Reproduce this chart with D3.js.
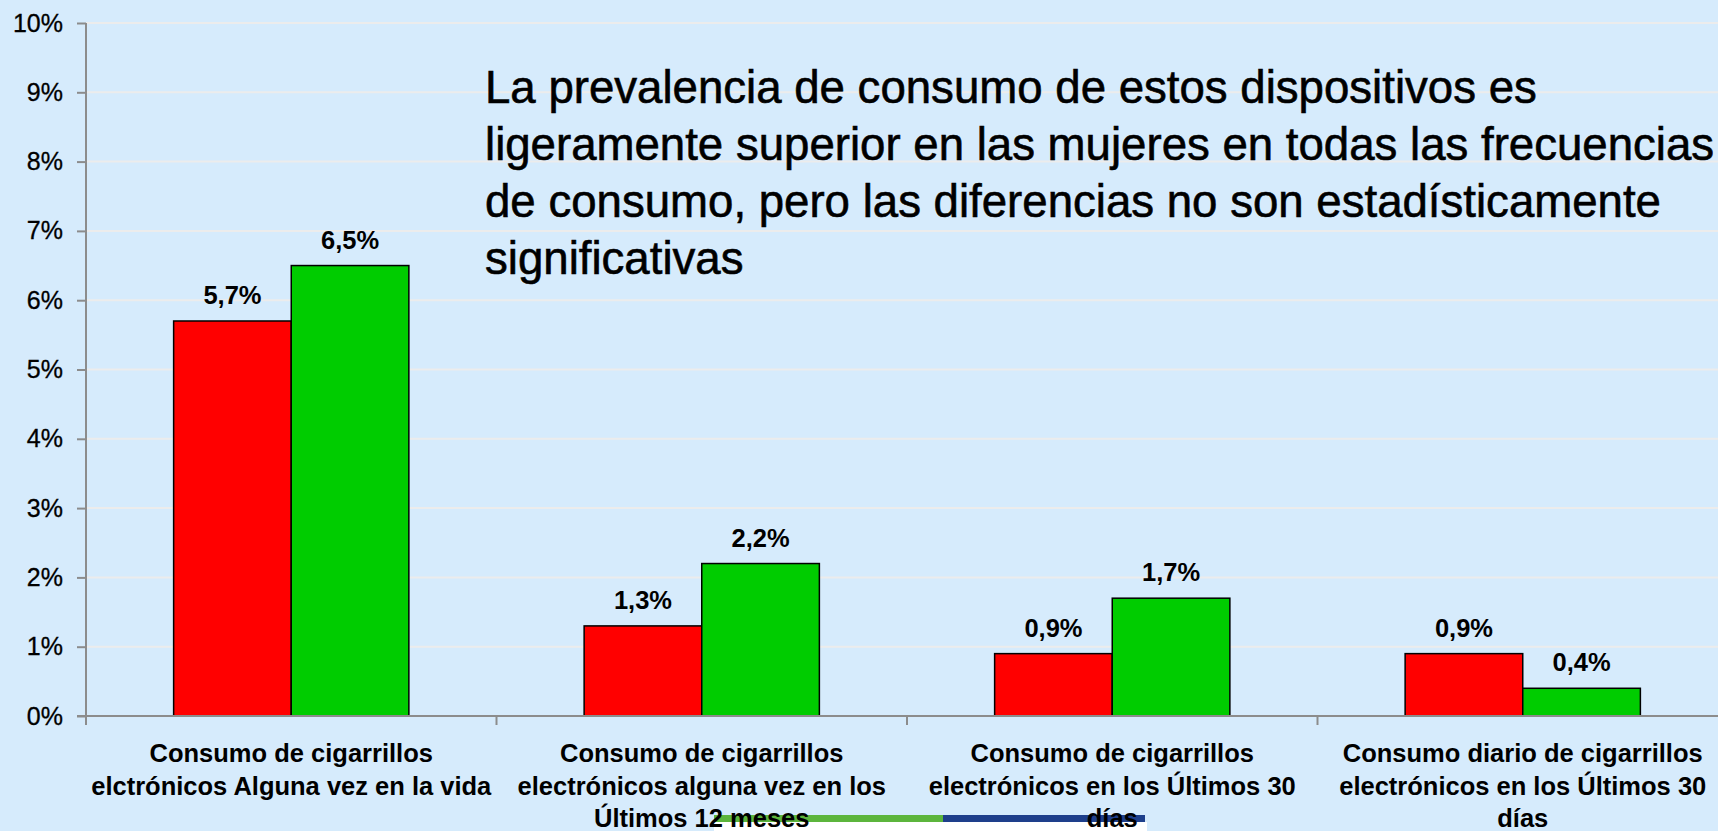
<!DOCTYPE html>
<html>
<head>
<meta charset="utf-8">
<script src="https://cdn.jsdelivr.net/npm/d3@7"></script>
<style>
  html, body { margin: 0; padding: 0; background: #d6ebfc; overflow: hidden; }
  svg { display: block; }
  text { font-family: "Liberation Sans", Arial, sans-serif; fill: #000; }
</style>
</head>
<body>
<div id="chart"></div>
<script>
// categories, wrapped as they appear under the axis
const categories = [
    ['Consumo de cigarrillos', 'elctrónicos Alguna vez en la vida'],
    ['Consumo de cigarrillos', 'electrónicos alguna vez en los', 'Últimos 12 meses'],
    ['Consumo de cigarrillos', 'electrónicos en los Últimos 30', 'días'],
    ['Consumo diario de cigarrillos', 'electrónicos en los Últimos 30', 'días']
];
const seriesNames = ['Hombres', 'Mujeres'];
const hombres = [5.7, 1.3, 0.9, 0.9];
const mujeres = [6.5, 2.2, 1.7, 0.4];
const yTicks = [0, 1, 2, 3, 4, 5, 6, 7, 8, 9, 10];
const titleLines = [
    'La prevalencia de consumo de estos dispositivos es',
    'ligeramente superior en las mujeres en todas las frecuencias',
    'de consumo, pero las diferencias no son estadísticamente',
    'significativas'
];

const colors = { Hombres: '#ff0000', Mujeres: '#00cc00' };

const W = 1718, H = 831;
const margin = { top: 23, left: 86, bottom: 115 };
const plotRight = 1728; // the plot runs a bit past the window edge

const svg = d3.select('#chart').append('svg')
    .attr('width', W)
    .attr('height', H);

svg.append('rect')
    .attr('width', W).attr('height', H)
    .attr('fill', '#d6ebfc');

const y = d3.scaleLinear()
    .domain([0, 10])
    .range([H - margin.bottom, margin.top]);

const catIdx = categories.map((d, i) => i);
const x = d3.scaleBand()
    .domain(catIdx)
    .range([margin.left, plotRight])
    .paddingInner(0)
    .paddingOuter(0);

const xs = d3.scaleBand()
    .domain(seriesNames)
    .range([0, x.bandwidth()])
    .paddingInner(0)
    .paddingOuter(0.745);

// gridlines
svg.append('g')
    .selectAll('line')
    .data(yTicks.filter(d => d > 0))
    .enter()
    .append('line')
    .attr('x1', margin.left).attr('x2', W)
    .attr('y1', d => y(d)).attr('y2', d => y(d))
    .attr('stroke', '#ececec')
    .attr('stroke-width', 2);

// little coloured strip at the bottom of the slide
const strip = svg.append('g');
strip.append('rect')
    .attr('x', 714).attr('y', 822).attr('width', 433).attr('height', 9)
    .attr('fill', '#ffffff');
strip.append('rect')
    .attr('x', 714).attr('y', 815).attr('width', 229).attr('height', 7)
    .attr('fill', '#5cb53c');
strip.append('rect')
    .attr('x', 943).attr('y', 815).attr('width', 202).attr('height', 7)
    .attr('fill', '#1e3f8b');

// bars
const rows = catIdx.map(i => ({ i: i, values: [
    { key: 'Hombres', v: hombres[i] },
    { key: 'Mujeres', v: mujeres[i] }
] }));

const groups = svg.append('g')
    .selectAll('g')
    .data(rows)
    .enter()
    .append('g')
    .attr('transform', d => `translate(${x(d.i)},0)`);

groups.selectAll('rect')
    .data(d => d.values)
    .enter()
    .append('rect')
    .attr('x', d => xs(d.key))
    .attr('y', d => y(d.v))
    .attr('width', xs.bandwidth())
    .attr('height', d => y(0) - y(d.v))
    .attr('fill', d => colors[d.key])
    .attr('stroke', '#000')
    .attr('stroke-width', 1.5);

groups.selectAll('text.lbl')
    .data(d => d.values)
    .enter()
    .append('text')
    .attr('class', 'lbl')
    .attr('x', d => xs(d.key) + xs.bandwidth() / 2)
    .attr('y', d => y(d.v) - 17)
    .attr('text-anchor', 'middle')
    .style('font-size', '25.5px')
    .style('font-weight', 'bold')
    .text(d => d.v.toFixed(1).replace('.', ',') + '%');

// y axis
const yAxis = d3.axisLeft(y)
    .tickValues(yTicks)
    .tickSize(9)
    .tickPadding(14)
    .tickFormat(d => d + '%');

const gy = svg.append('g')
    .attr('transform', `translate(${margin.left},0)`)
    .call(yAxis);
gy.select('.domain').remove();
gy.selectAll('line').attr('stroke', '#8c8c8c').attr('stroke-width', 2);
gy.selectAll('text')
    .style('font-size', '25px')
    .style('font-family', '"Liberation Sans", Arial, sans-serif')
    .attr('fill', '#000')
    .attr('stroke', '#000')
    .attr('stroke-width', 0.3);

// axis lines
svg.append('line')
    .attr('x1', margin.left).attr('x2', margin.left)
    .attr('y1', y(10)).attr('y2', y(0) + 9)
    .attr('stroke', '#8c8c8c').attr('stroke-width', 2);
svg.append('line')
    .attr('x1', margin.left - 9).attr('x2', W)
    .attr('y1', y(0)).attr('y2', y(0))
    .attr('stroke', '#8c8c8c').attr('stroke-width', 2);

// category ticks between groups
svg.append('g')
    .selectAll('line')
    .data(catIdx.slice(1))
    .enter()
    .append('line')
    .attr('x1', d => x(d)).attr('x2', d => x(d))
    .attr('y1', y(0)).attr('y2', y(0) + 9)
    .attr('stroke', '#8c8c8c').attr('stroke-width', 2);

// category labels
const catLabels = svg.append('g')
    .selectAll('text')
    .data(catIdx)
    .enter()
    .append('text')
    .attr('x', d => x(d) + x.bandwidth() / 2)
    .attr('y', y(0) + 46)
    .attr('text-anchor', 'middle')
    .style('font-size', '25.5px')
    .style('font-weight', 'bold');

catLabels.selectAll('tspan')
    .data(d => categories[d])
    .enter()
    .append('tspan')
    .attr('x', function () { return d3.select(this.parentNode).attr('x'); })
    .attr('dy', (d, i) => i === 0 ? 0 : 32.5)
    .text(d => d);

// note text in the upper right
const title = svg.append('text')
    .attr('x', 485)
    .attr('y', 103)
    .style('font-size', '42px')
    .attr('stroke', '#000')
    .attr('stroke-width', 0.6);

title.selectAll('tspan')
    .data(titleLines)
    .enter()
    .append('tspan')
    .attr('x', 485)
    .attr('dy', (d, i) => i === 0 ? 0 : 57)
    .text(d => d);

// fit the first line to the width it has in the slide
const first = title.select('tspan').node().getComputedTextLength();
title.style('font-size', (42 * 1053 / first).toFixed(1) + 'px');
</script>
</body>
</html>
